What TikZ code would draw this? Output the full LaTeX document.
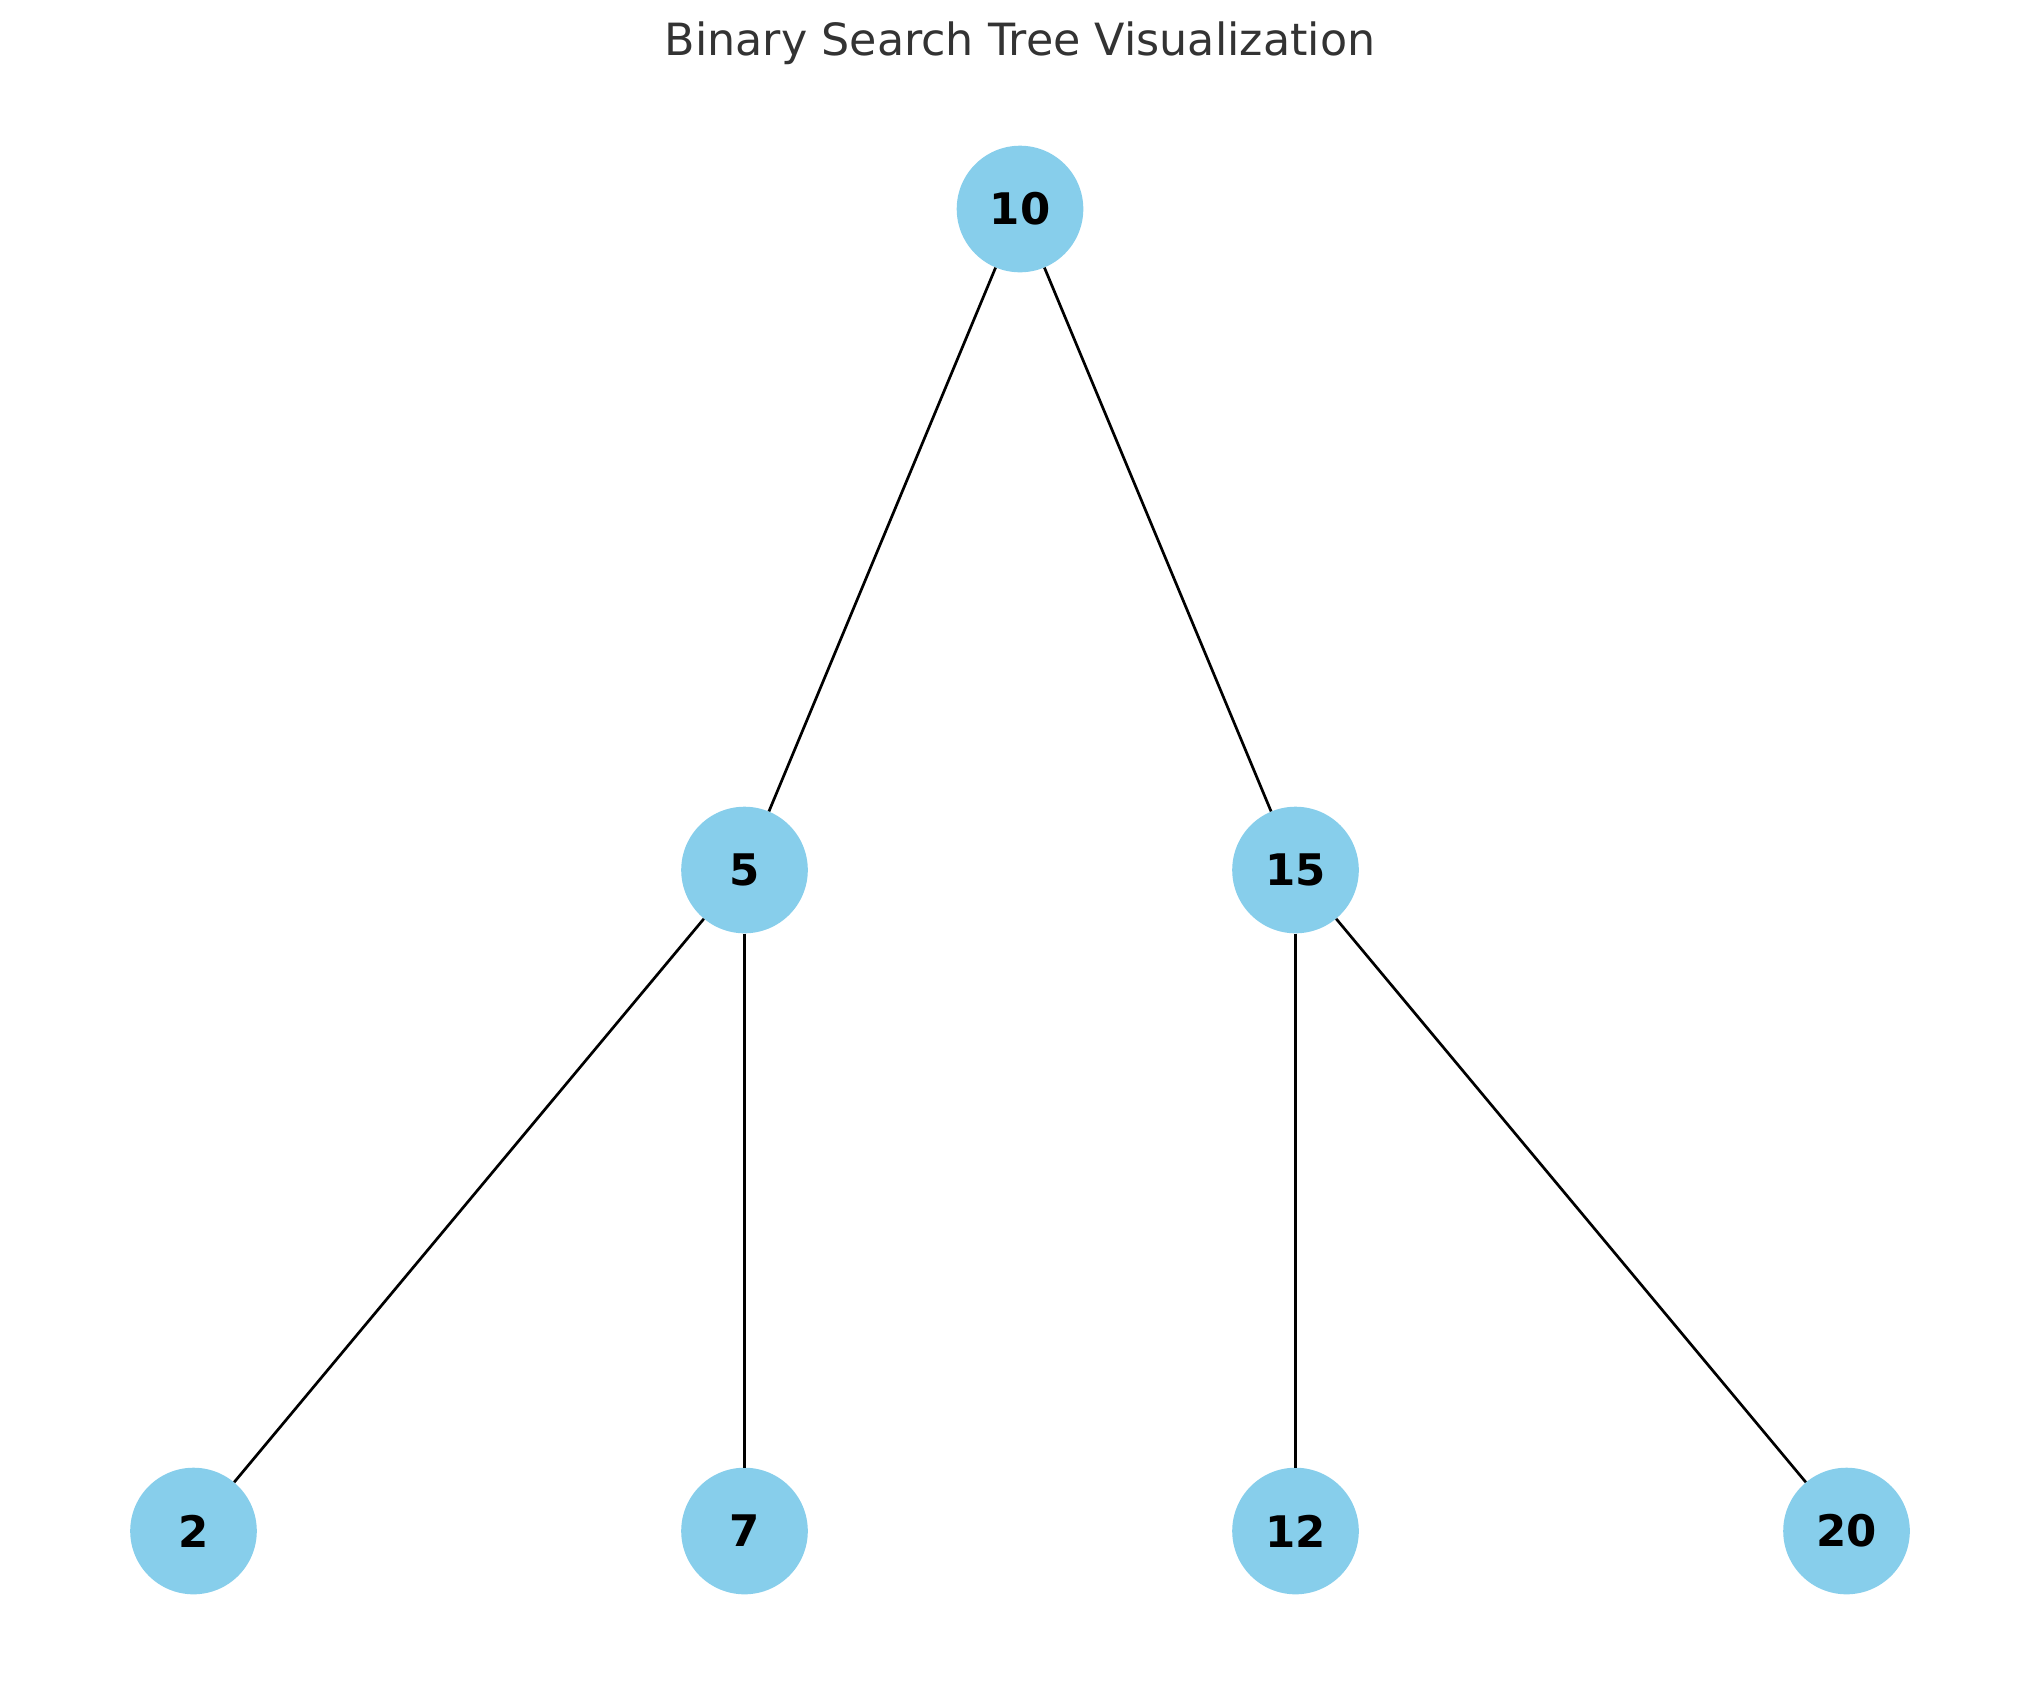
\documentclass[tikz,border=0pt]{standalone}
\usepackage{fontspec}
\setmainfont{DejaVu Sans}
\definecolor{skyblue}{HTML}{87CEEB}
\definecolor{titlegray}{HTML}{333333}
\begin{document}
\begin{tikzpicture}[x=1pt,y=-1pt,
  bstnode/.style={circle,fill=skyblue,draw=none,minimum size=126.6pt,inner sep=0pt,
    font=\fontsize{43.5}{50}\selectfont\bfseries,text=black},
  edge/.style={draw=black,line width=2.7pt}]
\useasboundingbox (0,0) rectangle (2039,1690);
\node[anchor=base,text=titlegray,font=\fontsize{44.4}{50}\selectfont,inner sep=0pt] (title) at (1020,55) {Binary Search Tree Visualization};
\node[bstnode] (n10) at (1020,209) {10};
\node[bstnode] (n5) at (744.5,870) {5};
\node[bstnode] (n15) at (1295.5,870) {15};
\node[bstnode] (n2) at (193.5,1531) {2};
\node[bstnode] (n7) at (744.5,1531) {7};
\node[bstnode] (n12) at (1295.5,1531) {12};
\node[bstnode] (n20) at (1846.5,1531) {20};
\draw[edge] (n10) -- (n5);
\draw[edge] (n10) -- (n15);
\draw[edge] (n5) -- (n2);
\draw[edge] (n5) -- (n7);
\draw[edge] (n15) -- (n12);
\draw[edge] (n15) -- (n20);
\end{tikzpicture}
\end{document}
